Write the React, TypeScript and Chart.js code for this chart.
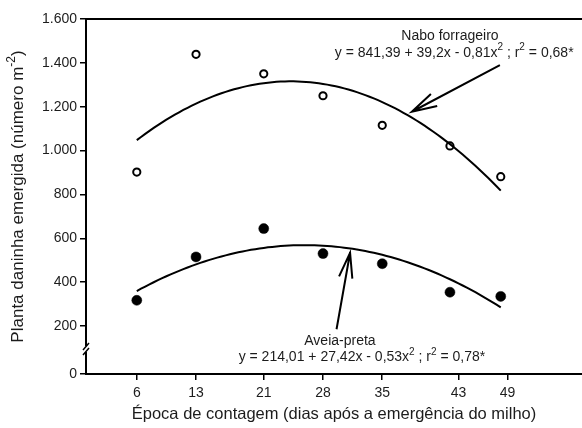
import { useEffect, useRef } from "react";
import { Chart, registerables } from "chart.js";

Chart.register(...registerables);

// ---- data ----
const DAYS = [6, 13, 21, 28, 35, 43, 49];
const NABO = [902, 1439, 1350, 1250, 1115, 1021, 881];
const AVEIA = [317, 515, 644, 530, 484, 354, 335];
// regression coefficients shown in the chart (a + b*x + c*x^2)
const NABO_COEF = [841.39, 39.2, -0.81];
const AVEIA_COEF = [214.01, 27.42, -0.53];
const FIT_STEP = 0.5;

const X_TICK_POS = [6, 13, 21, 28, 35, 44, 49.8];
const X_TICK_LABELS = ["6", "13", "21", "28", "35", "43", "49"];
const X_MAX = 58.6;
const Y_MIN = -19;
const Y_MAX = 1600;
const Y_TICK_POS = [Y_MIN, 200, 400, 600, 800, 1000, 1200, 1400, 1600];
const Y_TICK_LABELS = ["0", "200", "400", "600", "800", "1.000", "1.200", "1.400", "1.600"];
const Y_BREAK = 95;

const X_TITLE = "Época de contagem (dias após a emergência do milho)";
const Y_TITLE = [
  { t: "Planta daninha emergida (número m" },
  { t: "-2", sup: true },
  { t: ")" },
];
const NABO_NAME = "Nabo forrageiro";
const NABO_EQ = [
  { t: "y = 841,39 + 39,2x - 0,81x" },
  { t: "2", sup: true },
  { t: " ; r" },
  { t: "2", sup: true },
  { t: " = 0,68*" },
];
const AVEIA_NAME = "Aveia-preta";
const AVEIA_EQ = [
  { t: "y = 214,01 + 27,42x - 0,53x" },
  { t: "2", sup: true },
  { t: " ; r" },
  { t: "2", sup: true },
  { t: " = 0,78*" },
];
// annotation anchors in data units
const NABO_NAME_AT = { x: 43.0, y: 1522 };
const NABO_EQ_AT = { x: 43.5, y: 1446 };
const NABO_ARROW = { from: { x: 48.9, y: 1390 }, to: { x: 38.5, y: 1177 } };
const AVEIA_NAME_AT = { x: 30.0, y: 132 };
const AVEIA_EQ_AT = { x: 32.6, y: 56 };
const AVEIA_ARROW = { from: { x: 29.6, y: 185 }, to: { x: 31.2, y: 534 } };

const FONT = '"Liberation Sans", Arial, Helvetica, sans-serif';
const TEXT = "#1c1c1c";

function poly(c: number[], x: number) {
  return c[0] + c[1] * x + c[2] * x * x;
}

function fitPoints(c: number[]) {
  const pts: { x: number; y: number }[] = [];
  const a = DAYS[0];
  const b = DAYS[DAYS.length - 1];
  for (let d = a; d <= b + 1e-9; d += FIT_STEP) pts.push({ x: d, y: poly(c, d) });
  return pts;
}

type Seg = { t: string; sup?: boolean };

function drawSegs(ctx: CanvasRenderingContext2D, segs: Seg[], cx: number, cy: number, size: number) {
  const fN = `${size}px ${FONT}`;
  const fS = `${Math.round(size * 0.68)}px ${FONT}`;
  let w = 0;
  for (const s of segs) {
    ctx.font = s.sup ? fS : fN;
    w += ctx.measureText(s.t).width;
  }
  let x = cx - w / 2;
  ctx.textAlign = "left";
  ctx.textBaseline = "middle";
  for (const s of segs) {
    ctx.font = s.sup ? fS : fN;
    ctx.fillText(s.t, x, s.sup ? cy - size * 0.4 : cy);
    x += ctx.measureText(s.t).width;
  }
}

function drawArrow(ctx: CanvasRenderingContext2D, x1: number, y1: number, x2: number, y2: number) {
  ctx.beginPath();
  ctx.moveTo(x1, y1);
  ctx.lineTo(x2, y2);
  const ang = Math.atan2(y1 - y2, x1 - x2);
  const len = 26;
  const spread = (15 * Math.PI) / 180;
  ctx.moveTo(x2 + len * Math.cos(ang - spread), y2 + len * Math.sin(ang - spread));
  ctx.lineTo(x2, y2);
  ctx.lineTo(x2 + len * Math.cos(ang + spread), y2 + len * Math.sin(ang + spread));
  ctx.stroke();
}

const overlay = {
  id: "overlay",
  afterDraw(chart: any) {
    const { ctx, chartArea, scales } = chart;
    const xs = scales.x;
    const ys = scales.y;
    ctx.save();
    // top frame line
    ctx.strokeStyle = "#000";
    ctx.lineWidth = 2;
    ctx.beginPath();
    ctx.moveTo(chartArea.left - 1, chartArea.top);
    ctx.lineTo(chartArea.right, chartArea.top);
    ctx.stroke();
    // axis break
    const yb = ys.getPixelForValue(Y_BREAK);
    const lx = chartArea.left;
    ctx.fillStyle = "#fff";
    ctx.fillRect(lx - 3, yb - 3, 6, 6);
    ctx.lineWidth = 1.5;
    ctx.beginPath();
    ctx.moveTo(lx - 3, yb + 1);
    ctx.lineTo(lx + 3, yb - 6);
    ctx.moveTo(lx - 3, yb + 6);
    ctx.lineTo(lx + 3, yb - 1);
    ctx.stroke();
    // y title
    ctx.fillStyle = TEXT;
    ctx.save();
    ctx.translate(18, (chartArea.top + chartArea.bottom) / 2);
    ctx.rotate(-Math.PI / 2);
    drawSegs(ctx, Y_TITLE, 0, 0, 17);
    ctx.restore();
    // annotations
    const px = (p: { x: number; y: number }) => [xs.getPixelForValue(p.x), ys.getPixelForValue(p.y)];
    ctx.fillStyle = TEXT;
    let [a, b] = px(NABO_NAME_AT);
    drawSegs(ctx, [{ t: NABO_NAME }], a, b, 14);
    [a, b] = px(NABO_EQ_AT);
    drawSegs(ctx, NABO_EQ, a, b, 14);
    [a, b] = px(AVEIA_NAME_AT);
    drawSegs(ctx, [{ t: AVEIA_NAME }], a, b, 14);
    [a, b] = px(AVEIA_EQ_AT);
    drawSegs(ctx, AVEIA_EQ, a, b, 14);
    ctx.strokeStyle = "#000";
    ctx.lineWidth = 2;
    for (const ar of [NABO_ARROW, AVEIA_ARROW]) {
      const [x1, y1] = px(ar.from);
      const [x2, y2] = px(ar.to);
      drawArrow(ctx, x1, y1, x2, y2);
    }
    ctx.restore();
  },
};

export default function App() {
  const ref = useRef<HTMLCanvasElement>(null);
  useEffect(() => {
    if (!ref.current) return;
    Chart.defaults.font.family = FONT;
    const chart = new Chart(ref.current, {
      type: "scatter",
      data: {
        datasets: [
          {
            label: "Nabo fit",
            data: fitPoints(NABO_COEF),
            showLine: true,
            borderColor: "#000",
            borderWidth: 2,
            pointRadius: 0,
            tension: 0,
          },
          {
            label: "Aveia fit",
            data: fitPoints(AVEIA_COEF),
            showLine: true,
            borderColor: "#000",
            borderWidth: 2,
            pointRadius: 0,
            tension: 0,
          },
          {
            label: "Nabo forrageiro",
            data: DAYS.map((d, i) => ({ x: d, y: NABO[i] })),
            pointRadius: 3.6,
            pointBorderWidth: 2,
            pointBackgroundColor: "#fff",
            pointBorderColor: "#000",
          },
          {
            label: "Aveia-preta",
            data: DAYS.map((d, i) => ({ x: d, y: AVEIA[i] })),
            pointRadius: 5,
            pointBorderWidth: 0.5,
            pointBackgroundColor: "#000",
            pointBorderColor: "#000",
          },
        ],
      },
      options: {
        responsive: false,
        animation: false,
        layout: { autoPadding: false, padding: { top: 19, left: 0, right: 0, bottom: 0 } },
        plugins: { legend: { display: false }, tooltip: { enabled: false } },
        scales: {
          x: {
            type: "linear",
            min: 0,
            max: X_MAX,
            afterBuildTicks: (s: any) => {
              s.ticks = X_TICK_POS.map((v) => ({ value: v }));
            },
            afterFit: (s: any) => {
              s.height = 54;
              s.paddingLeft = 0;
              s.paddingRight = 0;
            },
            ticks: {
              callback: (_v: any, i: number) => X_TICK_LABELS[i],
              color: TEXT,
              font: { size: 14 },
              padding: 5,
              maxRotation: 0,
              autoSkip: false,
            },
            grid: { display: true, drawOnChartArea: false, drawTicks: true, tickLength: 6, color: "#000", lineWidth: 1.5 },
            border: { display: true, color: "#000", width: 2 },
            title: { display: true, text: X_TITLE, color: TEXT, font: { size: 16.5 }, padding: { top: 0, bottom: 4 } },
          },
          y: {
            type: "linear",
            min: Y_MIN,
            max: Y_MAX,
            afterBuildTicks: (s: any) => {
              s.ticks = Y_TICK_POS.map((v) => ({ value: v }));
            },
            afterFit: (s: any) => {
              s.width = 86;
              s.paddingTop = 0;
              s.paddingBottom = 0;
            },
            ticks: {
              callback: (_v: any, i: number) => Y_TICK_LABELS[i],
              color: TEXT,
              font: { size: 14 },
              padding: 3,
              autoSkip: false,
            },
            grid: { display: true, drawOnChartArea: false, drawTicks: true, tickLength: 6, color: "#000", lineWidth: 1.5 },
            border: { display: true, color: "#000", width: 2 },
          },
        },
      },
      plugins: [overlay],
    } as any);
    return () => chart.destroy();
  }, []);
  return (
    <div style={{ position: "absolute", left: 0, top: 0, width: 582, height: 428, background: "#fff" }}>
      <canvas ref={ref} width={582} height={428} style={{ display: "block" }} />
    </div>
  );
}
